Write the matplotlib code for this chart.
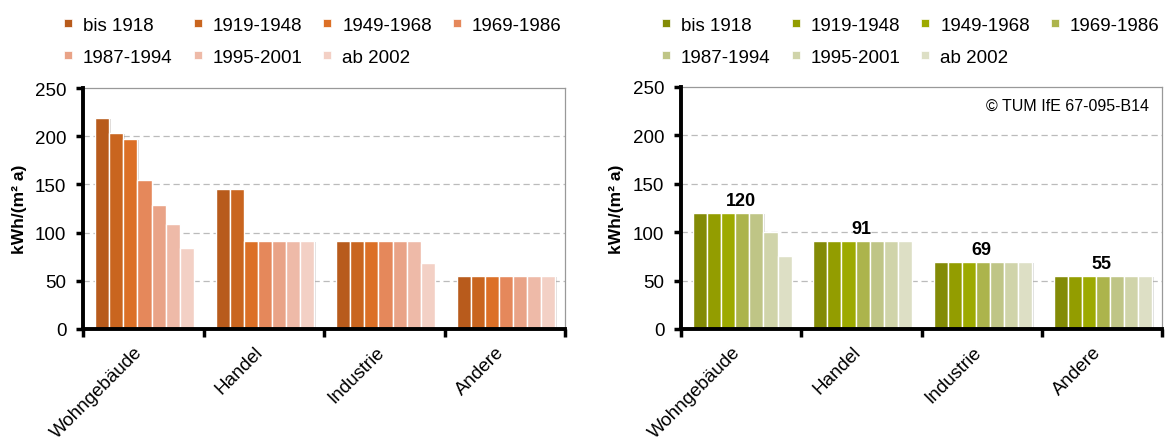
"""
Spezifischer Wärmebedarf nach Baualtersklasse und Sektor
"""
import matplotlib.pyplot as plt
import matplotlib.patheffects as pe
import matplotlib.transforms as mtransforms
from matplotlib.lines import Line2D

plt.rcParams['font.family'] = ['Liberation Sans', 'DejaVu Sans']

# data
CATEGORIES = ["Wohngebäude", "Handel", "Industrie", "Andere"]
PERIODS = ["bis 1918", "1919-1948", "1949-1968", "1969-1986",
           "1987-1994", "1995-2001", "ab 2002"]

LEFT_VALUES = [
    [219, 145, 91, 55],   # bis 1918
    [203, 145, 91, 55],   # 1919-1948
    [197, 91, 91, 55],    # 1949-1968
    [155, 91, 91, 55],    # 1969-1986
    [129, 91, 91, 55],    # 1987-1994
    [109, 91, 91, 55],    # 1995-2001
    [84, 91, 68, 55],     # ab 2002
]
RIGHT_VALUES = [
    [120, 91, 69, 55],
    [120, 91, 69, 55],
    [120, 91, 69, 55],
    [120, 91, 69, 55],
    [120, 91, 69, 55],
    [100, 91, 69, 55],
    [75, 91, 69, 55],
]
RIGHT_LABELS = ["120", "91", "69", "55"]

ORANGES = ["#B85B1C", "#C9651F", "#DC7027", "#E5885B",
           "#E9A387", "#EEBAA8", "#F3D0C5"]
GREENS = ["#838B06", "#939D00", "#9DAA00", "#ACB44C",
          "#BFC586", "#D0D4AA", "#DDDFC5"]

W, H = 1168, 439
BAR_W = 0.117
FS = 13.5


def draw_panel(fig, rect, values, colors, legend_x):
    """one bar panel incl. legend"""
    ax = fig.add_axes(rect)
    n = len(PERIODS)
    shadow = [pe.SimplePatchShadow(offset=(1.2, -0.8), alpha=0.18), pe.Normal()]
    for i, (vals, col) in enumerate(zip(values, colors)):
        xs = [c + (i - (n - 1) / 2) * BAR_W + 0.01 for c in range(len(CATEGORIES))]
        bars = ax.bar(xs, vals, width=BAR_W, color=col, edgecolor="white",
                      linewidth=1.0, zorder=3)
        for b in bars:
            b.set_path_effects(shadow)

    ax.set_xlim(-0.5, len(CATEGORIES) - 0.5)
    ax.set_ylim(0, 250)
    ax.set_yticks([0, 50, 100, 150, 200, 250])
    ax.tick_params(axis="y", labelsize=FS, length=5, width=2.5, direction="out",
                   pad=7, color="black")
    ax.set_xticks([x - 0.5 for x in range(len(CATEGORIES) + 1)])
    ax.set_xticklabels([])
    ax.tick_params(axis="x", length=6, width=2.5, direction="out", color="black")
    for y in [50, 100, 150, 200]:
        ax.axhline(y, color="#BBBBBB", linestyle=(0, (5, 3)), linewidth=0.9, zorder=1)

    for side in ["left", "bottom"]:
        ax.spines[side].set_linewidth(2.8)
        ax.spines[side].set_color("black")
        ax.spines[side].set_zorder(5)
    for side in ["top", "right"]:
        ax.spines[side].set_linewidth(0.9)
        ax.spines[side].set_color("#999999")

    ax.set_ylabel("kWh/(m² a)", fontsize=12.5, fontweight="bold", labelpad=6)

    # rotated category labels
    offset = mtransforms.ScaledTranslation(-3 / 100, -20 / 100, fig.dpi_scale_trans)
    trans = ax.get_xaxis_transform() + offset
    for c, name in enumerate(CATEGORIES):
        ax.text(c, 0, name, transform=trans, rotation=45, ha="right", va="center",
                rotation_mode="anchor", fontsize=FS)

    handles = [Line2D([], [], marker="s", linestyle="none", markersize=6,
                      markerfacecolor=col, markeredgecolor="white", markeredgewidth=0.5)
               for col in colors]
    # legend fills column-wise, reorder so it reads row-wise
    order = [0, 4, 1, 5, 2, 6, 3]
    fig.legend([handles[k] for k in order], [PERIODS[k] for k in order],
               ncol=4, loc="upper left", bbox_to_anchor=(legend_x, 1 - 17.5 / H),
               frameon=False, fontsize=FS, borderpad=0, borderaxespad=0,
               handlelength=0.8, handletextpad=0.4, columnspacing=0.93,
               labelspacing=0.8)
    return ax


fig = plt.figure(figsize=(W / 100, H / 100), dpi=100)

left_rect = [83 / W, 1 - 330 / H, (565 - 83) / W, (330 - 89) / H]
right_rect = [681 / W, 1 - 330 / H, (1162 - 681) / W, (330 - 88) / H]

draw_panel(fig, left_rect, LEFT_VALUES, ORANGES, 60.5 / W)
ax2 = draw_panel(fig, right_rect, RIGHT_VALUES, GREENS, 658.5 / W)

# value labels above the groups
for c, lab in enumerate(RIGHT_LABELS):
    top = max(v[c] for v in RIGHT_VALUES)
    ax2.text(c, top + 4, lab, ha="center", va="bottom", fontsize=13,
             fontweight="bold", zorder=6)

ax2.text(0.972, 0.925, "© TUM IfE 67-095-B14", transform=ax2.transAxes,
         ha="right", va="center", fontsize=11.5)

fig.savefig("out.png", dpi=100)
